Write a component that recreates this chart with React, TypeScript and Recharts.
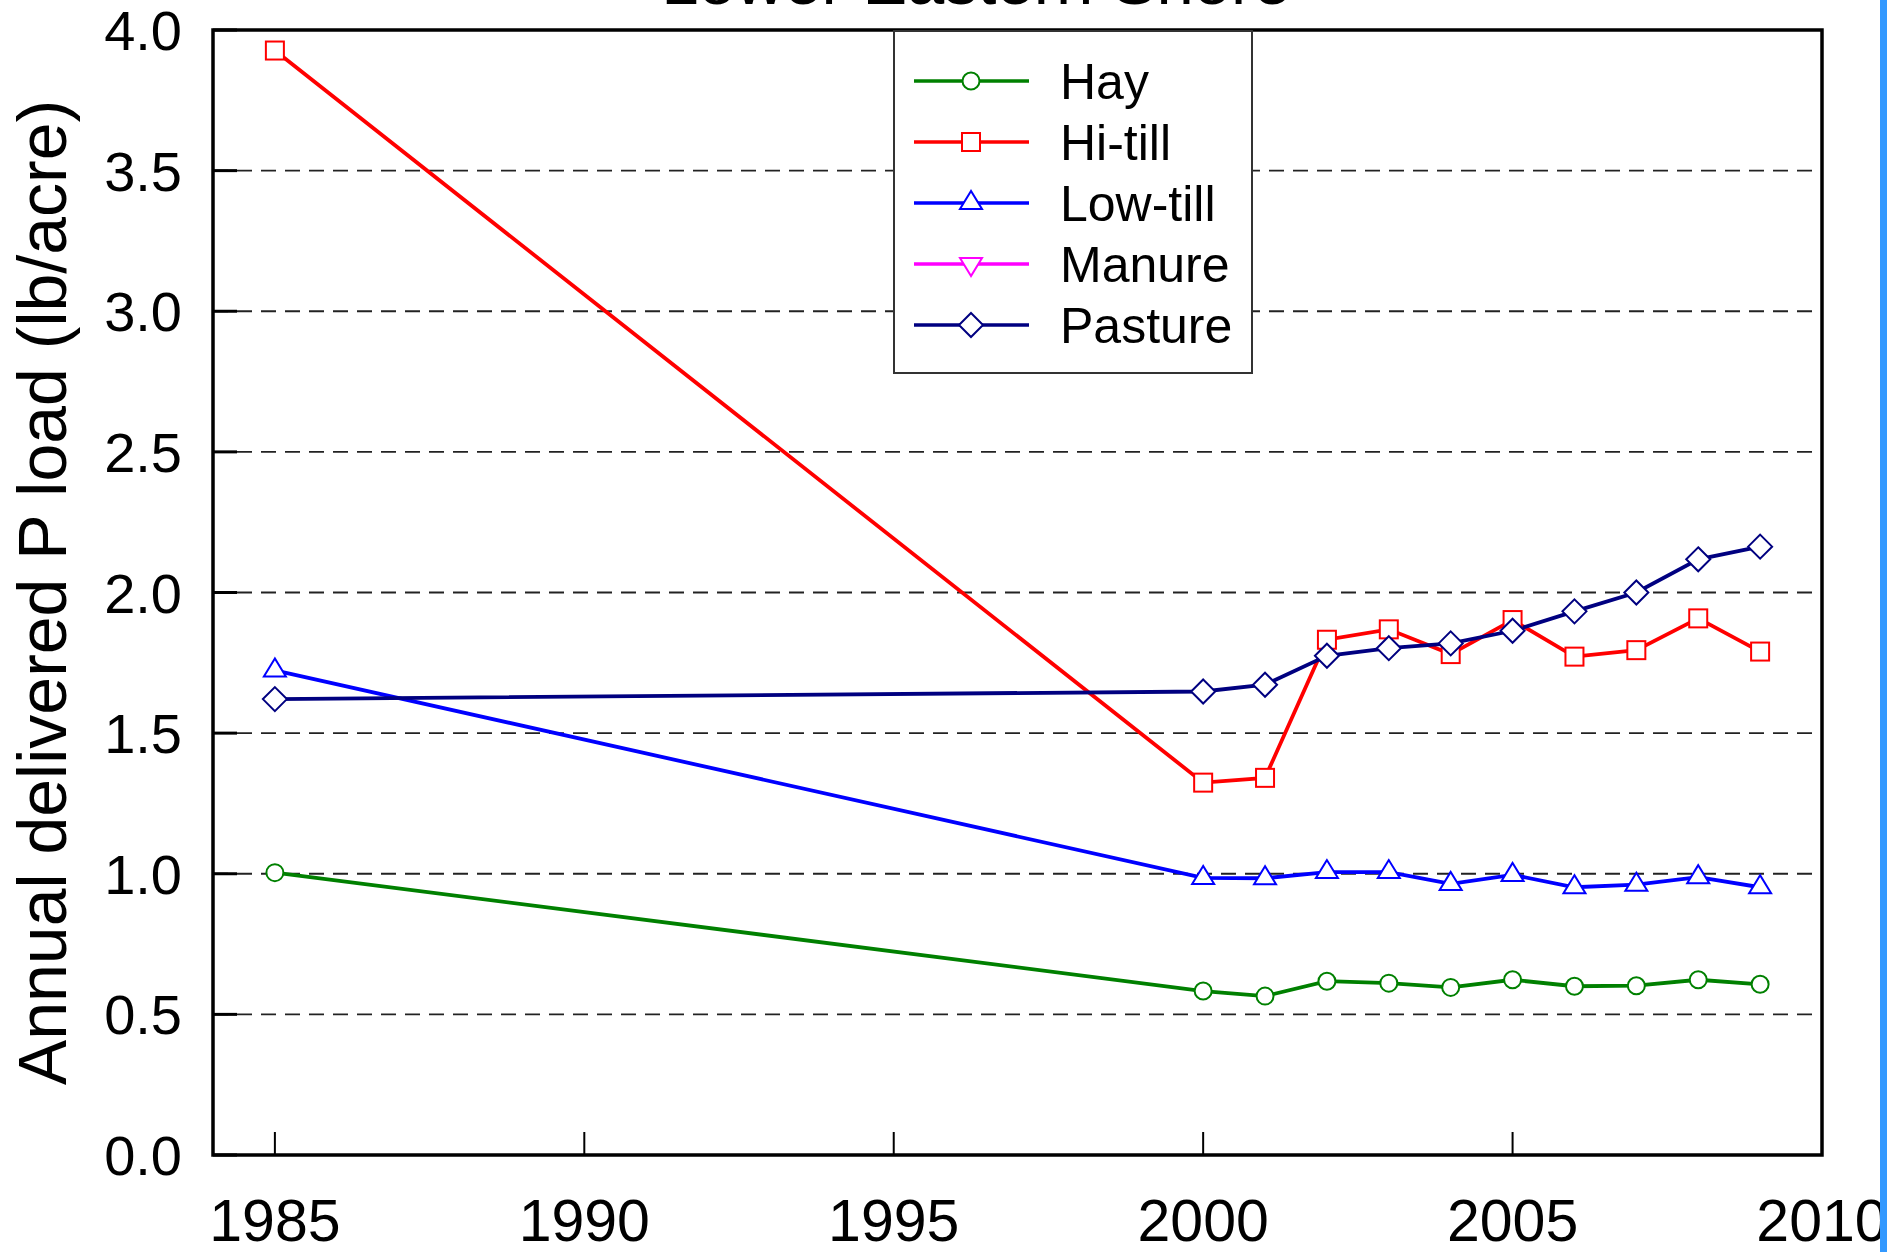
import React from 'react';
import {
  LineChart,
  Line,
  XAxis,
  YAxis,
  CartesianGrid,
  ReferenceArea,
  Legend,
} from 'recharts';

const years = [1985, 2000, 2001, 2002, 2003, 2004, 2005, 2006, 2007, 2008, 2009];
const hay = [1.004, 0.583, 0.565, 0.618, 0.611, 0.596, 0.623, 0.6, 0.602, 0.623, 0.607];
const hiTill = [3.927, 1.324, 1.341, 1.832, 1.869, 1.781, 1.902, 1.772, 1.795, 1.908, 1.79];
const lowTill = [1.723, 0.985, 0.984, 1.006, 1.006, 0.964, 0.996, 0.952, 0.961, 0.988, 0.952];
const manure: (number | null)[] = [null, null, null, null, null, null, null, null, null, null, null];
const pasture = [1.621, 1.648, 1.672, 1.775, 1.802, 1.819, 1.864, 1.933, 2.0, 2.118, 2.163];

const xTicks = [1985, 1990, 1995, 2000, 2005, 2010];
const yTicks = [0, 0.5, 1, 1.5, 2, 2.5, 3, 3.5, 4];

const FONT = '"Liberation Sans", Arial, Helvetica, sans-serif';

type Shape = 'circle' | 'square' | 'triangle' | 'invTriangle' | 'diamond';

const series: { key: string; name: string; color: string; shape: Shape }[] = [
  { key: 'hay', name: 'Hay', color: '#008000', shape: 'circle' },
  { key: 'hiTill', name: 'Hi-till', color: '#ff0000', shape: 'square' },
  { key: 'lowTill', name: 'Low-till', color: '#0000ff', shape: 'triangle' },
  { key: 'manure', name: 'Manure', color: '#ff00ff', shape: 'invTriangle' },
  { key: 'pasture', name: 'Pasture', color: '#000080', shape: 'diamond' },
];

const data = years.map((year, i) => ({
  year,
  hay: hay[i],
  hiTill: hiTill[i],
  lowTill: lowTill[i],
  manure: manure[i],
  pasture: pasture[i],
}));

const marker = (shape: Shape, cx: number, cy: number, color: string, key?: string) => {
  const common = { fill: '#fff', stroke: color, strokeWidth: 2 };
  switch (shape) {
    case 'circle':
      return <circle key={key} cx={cx} cy={cy} r={8.5} {...common} />;
    case 'square':
      return <rect key={key} x={cx - 9} y={cy - 9} width={18} height={18} {...common} />;
    case 'triangle':
      return (
        <polygon
          key={key}
          points={`${cx},${cy - 12} ${cx - 11},${cy + 6} ${cx + 11},${cy + 6}`}
          {...common}
        />
      );
    case 'invTriangle':
      return (
        <polygon
          key={key}
          points={`${cx},${cy + 12} ${cx - 11},${cy - 6} ${cx + 11},${cy - 6}`}
          {...common}
        />
      );
    default:
      return (
        <polygon
          key={key}
          points={`${cx},${cy - 12} ${cx + 12},${cy} ${cx},${cy + 12} ${cx - 12},${cy}`}
          {...common}
        />
      );
  }
};

const XTick = (props: any) => {
  const { x, y, payload } = props;
  return (
    <g>
      <line x1={x} y1={y} x2={x} y2={y - 23} stroke="#000" strokeWidth={2} />
      <text x={x} y={y + 86} textAnchor="middle" fontSize={59} fontFamily={FONT} fill="#000">
        {payload.value}
      </text>
    </g>
  );
};

const YTick = (props: any) => {
  const { x, y, payload } = props;
  return (
    <g>
      <line x1={x} y1={y} x2={x + 24} y2={y} stroke="#000" strokeWidth={3} />
      <text x={x - 31} y={y + 20} textAnchor="end" fontSize={56} fontFamily={FONT} fill="#000">
        {Number(payload.value).toFixed(1)}
      </text>
    </g>
  );
};

const RightTick = (props: any) => {
  const { x, y } = props;
  return <line x1={x} y1={y} x2={x - 24} y2={y} stroke="#000" strokeWidth={3} />;
};

const YLabel = (props: any) => {
  const vb = props.viewBox || { x: 0, y: 30, width: 213, height: 1125 };
  const cy = vb.y + vb.height / 2;
  return (
    <text
      transform={`translate(66, ${cy}) rotate(-90)`}
      textAnchor="middle"
      fontSize={68}
      fontFamily={FONT}
      fill="#000"
    >
      Annual delivered P load (lb/acre)
    </text>
  );
};

const LegendBox = () => (
  <div
    style={{
      width: 360,
      height: 344,
      boxSizing: 'border-box',
      border: '2px solid #333',
      background: '#fff',
    }}
  >
    <svg width={356} height={340} style={{ display: 'block' }}>
      {series.map((s, i) => {
        const cy = 49 + i * 61;
        return (
          <g key={s.key}>
            <line x1={19} y1={cy} x2={134} y2={cy} stroke={s.color} strokeWidth={3.5} />
            {marker(s.shape, 76, cy, s.color)}
            <text x={165} y={cy + 18} fontSize={50} fontFamily={FONT} fill="#000">
              {s.name}
            </text>
          </g>
        );
      })}
    </svg>
  </div>
);

export default function App() {
  return (
    <div
      style={{
        position: 'absolute',
        left: 0,
        top: 0,
        width: 1887,
        height: 1252,
        background: '#fff',
        overflow: 'hidden',
      }}
    >
      <LineChart
        width={1887}
        height={1252}
        data={data}
        margin={{ top: 30, right: 64, bottom: 0, left: 0 }}
      >
        <CartesianGrid
          horizontal
          vertical={false}
          stroke="#222"
          strokeWidth={1.8}
          strokeDasharray="15 9"
        />
        <XAxis
          dataKey="year"
          type="number"
          domain={[1984, 2010]}
          ticks={xTicks}
          interval={0}
          height={97}
          axisLine={false}
          tickLine={false}
          tickSize={0}
          tickMargin={0}
          tick={(p: any) => <XTick {...p} />}
        />
        <YAxis
          type="number"
          domain={[0, 4]}
          ticks={yTicks}
          interval={0}
          width={213}
          axisLine={false}
          tickLine={false}
          tickSize={0}
          tickMargin={0}
          tick={(p: any) => <YTick {...p} />}
          label={(p: any) => <YLabel {...p} />}
        />
        <YAxis
          yAxisId="right"
          orientation="right"
          type="number"
          domain={[0, 4]}
          ticks={yTicks}
          interval={0}
          width={1}
          axisLine={false}
          tickLine={false}
          tickSize={0}
          tickMargin={0}
          tick={(p: any) => <RightTick {...p} />}
        />
        <ReferenceArea
          x1={1984}
          x2={2010}
          y1={0}
          y2={4}
          fill="none"
          fillOpacity={0}
          stroke="#000"
          strokeWidth={3.5}
        />
        {series.map((s) => (
          <Line
            key={s.key}
            dataKey={s.key}
            name={s.name}
            type="linear"
            stroke={s.color}
            strokeWidth={3.8}
            connectNulls
            activeDot={false}
            isAnimationActive={false}
            dot={(p: any) =>
              p.cx == null || p.cy == null || p.value == null ? (
                <g key={`${s.key}-${p.index}`} />
              ) : (
                marker(s.shape, p.cx, p.cy, s.color, `${s.key}-${p.index}`)
              )
            }
          />
        ))}
        <Legend
          layout="horizontal"
          verticalAlign="middle"
          align="center"
          content={() => <LegendBox />}
          wrapperStyle={{ left: 893, top: 30, width: 360, height: 344, margin: 0, padding: 0 }}
        />
      </LineChart>
      <svg
        width={1887}
        height={1252}
        style={{ position: 'absolute', left: 0, top: 0, pointerEvents: 'none' }}
      >
        <text x={976} y={4} textAnchor="middle" fontSize={67} fontFamily={FONT} fill="#000">
          Lower Eastern Shore
        </text>
      </svg>
      <div
        style={{
          position: 'absolute',
          left: 1880,
          top: 0,
          width: 7,
          height: 1252,
          background: '#3399ff',
        }}
      />
    </div>
  );
}
